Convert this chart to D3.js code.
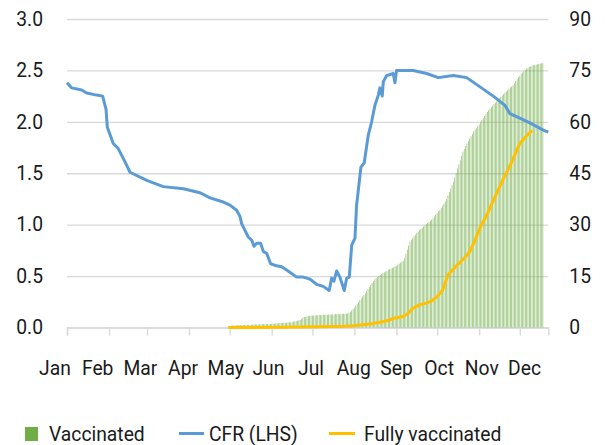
<!DOCTYPE html>
<html><head><meta charset="utf-8">
<script src="https://cdn.jsdelivr.net/npm/d3@7"></script>
<style>
html,body{margin:0;padding:0;background:#fff;}
svg text{font-family:Roboto,"Noto Sans",sans-serif;fill:#1a1a1a;}
</style></head>
<body><svg id="c" width="605" height="445"></svg>
<script>
// ---------- DATA ----------
const year = 2021;
const months = ["Jan","Feb","Mar","Apr","May","Jun","Jul","Aug","Sep","Oct","Nov","Dec"];
const leftTicks = [0, 0.5, 1.0, 1.5, 2.0, 2.5, 3.0];
const rightTicks = [0, 15, 30, 45, 60, 75, 90];
const lastDay = 355; // day index (0 = 1 Jan)

// CFR (LHS): day-of-year index, value
const cfrDays = [0,3.5,10.8,14.5,21.9,26.3,28.8,29.7,34.1,37.8,42.8,46.5,58.8,71,85.8,98.1,105.5,115.3,120.2,125.1,127.6,128.8,133.7,136.2,137.9,139.9,142.8,144.8,147.3,150.2,154.6,158.3,162,169.4,174.3,179.2,184.1,189,193.4,195.2,196.9,198.9,201.3,204.5,206.3,208.2,210,212.4,213.6,215.6,216.8,219.2,222.2,224.7,227.1,229.6,230.8,232.5,233.3,235.8,240.6,241.9,243.1,248,255.4,265.3,273.8,284.9,294.8,304.6,314.4,323,326.7,331.6,341.4,351.3,355];
const cfrValues = [2.38,2.33,2.31,2.28,2.26,2.25,2.12,1.95,1.79,1.74,1.61,1.51,1.43,1.37,1.35,1.31,1.26,1.22,1.19,1.14,1.08,1.01,0.88,0.85,0.79,0.82,0.82,0.74,0.72,0.62,0.60,0.59,0.56,0.49,0.49,0.47,0.42,0.40,0.36,0.48,0.45,0.55,0.49,0.36,0.48,0.49,0.80,0.87,1.19,1.42,1.56,1.60,1.87,2.00,2.16,2.26,2.33,2.25,2.39,2.45,2.47,2.38,2.50,2.50,2.50,2.47,2.43,2.45,2.43,2.34,2.25,2.16,2.08,2.05,1.99,1.92,1.90];

// Vaccinated (RHS, %): daily values starting at day 119
const vaxStartDay = 119;
const vaxValues = [
0.3,0.5,0.5,0.6,0.6,0.6,0.6,0.7,0.7,0.7,
0.7,0.7,0.8,0.8,0.8,0.8,0.8,0.8,0.9,0.9,
0.9,0.9,0.9,0.9,0.9,1.0,1.0,1.0,1.0,1.0,
1.0,1.0,1.1,1.1,1.1,1.2,1.2,1.2,1.3,1.3,
1.3,1.4,1.4,1.4,1.5,1.5,1.5,1.6,1.7,1.8,
1.9,2.0,2.1,2.2,2.5,2.9,3.0,3.1,3.2,3.3,
3.4,3.4,3.5,3.5,3.5,3.6,3.6,3.6,3.6,3.7,
3.7,3.7,3.7,3.7,3.8,3.8,3.8,3.8,3.8,3.9,
3.9,3.9,3.9,3.9,4.0,4.0,4.0,4.0,4.1,4.3,
4.6,5.0,5.4,5.9,6.4,6.9,7.4,7.9,8.5,9.0,
9.5,10.0,10.6,11.2,11.8,12.4,13.0,13.5,14.0,14.4,
14.7,15.0,15.3,15.6,15.9,16.1,16.3,16.5,16.8,17.0,
17.2,17.4,17.6,17.8,18.0,18.3,18.6,18.9,19.2,19.5,
20.3,21.5,22.7,23.9,25.0,25.6,26.1,26.6,27.1,27.6,
28.0,28.4,28.8,29.1,29.5,29.8,30.2,30.5,30.8,31.1,
31.5,31.9,32.4,32.9,33.4,33.9,34.3,34.9,35.5,36.1,
36.8,37.5,38.5,39.5,40.5,41.5,42.5,43.8,45.1,46.4,
47.6,48.8,50.1,51.3,52.1,52.9,53.7,54.4,55.1,55.8,
56.5,57.2,57.7,58.1,58.7,59.3,59.9,60.5,61.1,61.7,
62.3,62.9,63.4,63.8,64.3,64.7,65.2,65.6,66.0,66.5,
66.9,67.3,67.7,68.1,68.5,68.9,69.2,69.6,70.0,70.3,
70.7,71.3,71.9,72.5,73.0,73.5,74.0,74.4,74.8,75.2,
75.5,75.8,76.0,76.2,76.4,76.5,76.6,76.7,76.8,76.9,
77.0,77.1,77.1
];

// Fully vaccinated (RHS, %): day-of-year index, value
const fullyDays = [119,160,187,205,211,220,226,232,238,241,248,252,255,260,265,269,273,277,281,284,287,293,297,301,305,309,313,318,322,327,331,334,338,343];
const fullyValues = [0,0.05,0.2,0.35,0.5,0.9,1.2,1.6,2.2,2.7,3.2,4.2,5.6,6.6,7.1,7.8,9.0,10.9,15.3,16.6,17.9,20.2,22.1,25.5,29.4,32.3,35.8,40.1,43.5,47.4,51.0,53.7,55.5,57.5];

const legendItems = ["Vaccinated","CFR (LHS)","Fully vaccinated"];

// ---------- CHART ----------
const C = {blue:"#5B9BD5", orange:"#FFC000", green:"#70AD47", grid:"#D9D9D9"};
const M = {left:67, right:548.3, top:19, bottom:327.5};
const FS = 19.3;
const svg = d3.select("#c");
const t0 = new Date(Date.UTC(year,0,1));
const day = d => new Date(t0.getTime() + d*86400000);

const x = d3.scaleUtc().domain([t0, day(lastDay)]).range([M.left, M.right]);
const yL = d3.scaleLinear().domain([0,3]).range([M.bottom, M.top]);
const yR = d3.scaleLinear().domain([0,90]).range([M.bottom, M.top]);

// gridlines + left axis labels
const gL = svg.append("g").attr("transform",`translate(${M.left},0)`)
  .call(d3.axisLeft(yL).tickValues(leftTicks).tickFormat(d3.format(".1f"))
    .tickSize(-(M.right-M.left)).tickPadding(24));
gL.select(".domain").remove();
gL.selectAll(".tick line").attr("stroke",C.grid).attr("stroke-width",1.4);
gL.selectAll(".tick text").attr("font-size",FS).attr("fill","#1a1a1a");

const gR = svg.append("g").attr("transform",`translate(${M.right},0)`)
  .call(d3.axisRight(yR).tickValues(rightTicks).tickFormat(d3.format("d")).tickSize(0).tickPadding(21));
gR.select(".domain").remove();
gR.selectAll(".tick text").attr("font-size",FS).attr("fill","#1a1a1a");

// x axis tick marks
const gX = svg.append("g").attr("transform",`translate(0,${M.bottom})`)
  .call(d3.axisBottom(x).ticks(d3.utcMonth.every(1)).tickFormat("").tickSize(8));
gX.select(".domain").attr("stroke",C.grid).attr("stroke-width",1.4);
gX.selectAll(".tick line").attr("stroke",C.grid).attr("stroke-width",1.4);

// month labels
const xl = d3.scalePoint().domain(months).range([55, 524.5]);
svg.append("g").selectAll("text").data(months).join("text")
  .attr("x", d=>xl(d)).attr("y", 375).attr("text-anchor","middle").attr("font-size",FS).text(d=>d);

// bars
const step = x(day(1)) - x(day(0));
svg.append("g").selectAll("rect").data(vaxValues).join("rect")
  .attr("x",(v,i)=> x(day(vaxStartDay+i)) - step*0.22)
  .attr("width", step*0.45)
  .attr("y", v=>yR(v)).attr("height", v=>yR(0)-yR(v))
  .attr("fill", C.green).attr("fill-opacity",0.9);

// lines
const line = (ys) => d3.line().x(d=>x(day(d[0]))).y(d=>ys(d[1]));
svg.append("path").datum(cfrDays.map((d,i)=>[d,cfrValues[i]]))
  .attr("d", line(yL)).attr("fill","none").attr("stroke",C.blue).attr("stroke-width",3).attr("stroke-linejoin","round");
svg.append("path").datum(fullyDays.map((d,i)=>[d,fullyValues[i]]))
  .attr("d", line(yR)).attr("fill","none").attr("stroke",C.orange).attr("stroke-width",3).attr("stroke-linejoin","round");

// legend
const lg = svg.append("g");
lg.append("rect").attr("x",25).attr("y",427).attr("width",13).attr("height",14).attr("fill",C.green);
lg.append("text").attr("x",49).attr("y",441).attr("font-size",FS).text(legendItems[0]);
lg.append("line").attr("x1",179).attr("x2",204).attr("y1",433.5).attr("y2",433.5).attr("stroke",C.blue).attr("stroke-width",3);
lg.append("text").attr("x",209).attr("y",441).attr("font-size",FS).text(legendItems[1]);
lg.append("line").attr("x1",329).attr("x2",355).attr("y1",433.5).attr("y2",433.5).attr("stroke",C.orange).attr("stroke-width",3);
lg.append("text").attr("x",364).attr("y",441).attr("font-size",FS).text(legendItems[2]);
</script></body></html>
